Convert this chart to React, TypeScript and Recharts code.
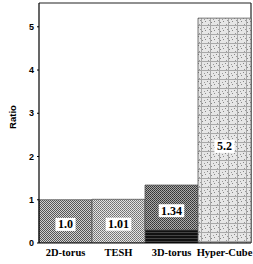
import React from 'react';
import { BarChart, Bar, XAxis, YAxis, Cell, LabelList, CartesianGrid } from 'recharts';

const categories = ['2D-torus', 'TESH', '3D-torus', 'Hyper-Cube'];
const ratios = [1.0, 1.01, 1.34, 5.2];
const labels = ['1.0', '1.01', '1.34', '5.2'];
const darkBase = [0, 0, 0.3, 0];
const yTicks = [0, 1, 2, 3, 4, 5];

const data = categories.map((name, i) => ({
  name,
  base: darkBase[i],
  upper: +(ratios[i] - darkBase[i]).toFixed(3),
}));

const fills = ['url(#p2d)', 'url(#ptesh)', 'url(#p3d)', 'url(#phc)'];

const ValueLabel = (props: any) => {
  const { x, y, width, height, index } = props;
  const text = labels[index];
  const cx = x + width / 2;
  const cy = y + height * 0.57;
  const w = text.length * 5.4 + 4;
  return (
    <g>
      <rect x={cx - w / 2} y={cy - 6.5} width={w} height={13} fill="#fff" />
      <text x={cx} y={cy + 4} textAnchor="middle" fontFamily="Liberation Serif" fontWeight="bold" fontSize={12} fill="#000">
        {text}
      </text>
    </g>
  );
};

const RatioLabel = (props: any) => {
  const vb = props.viewBox || { x: 0, y: 3, width: 39, height: 240 };
  const x = vb.x + 16;
  const y = vb.y + vb.height / 2 - 6;
  return (
    <text x={x} y={y} transform={`rotate(-90, ${x}, ${y})`} textAnchor="middle" fontFamily="Liberation Sans" fontWeight="bold" fontSize={9.5} fill="#000">
      Ratio
    </text>
  );
};

export default function App() {
  return (
    <div style={{ position: 'absolute', left: 0, top: 0, width: 253, height: 264, overflow: 'hidden', background: '#fff' }}>
      <BarChart width={253} height={264} data={data} margin={{ top: 3, right: 2, bottom: 0, left: 0 }} barCategoryGap={0}>
        <defs>
          <pattern id="p2d" width="2" height="2" patternUnits="userSpaceOnUse">
            <rect width="2" height="2" fill="#d0d0d0" />
            <rect x="0" y="0" width="1" height="1" fill="#555" />
            <rect x="1" y="1" width="1" height="1" fill="#555" />
          </pattern>
          <pattern id="ptesh" width="2" height="2" patternUnits="userSpaceOnUse">
            <rect width="2" height="2" fill="#e4e4e4" />
            <rect x="0" y="0" width="1" height="1" fill="#707070" />
            <rect x="1" y="1" width="1" height="1" fill="#808080" />
          </pattern>
          <pattern id="p3d" width="2" height="2" patternUnits="userSpaceOnUse">
            <rect width="2" height="2" fill="#aaa" />
            <rect x="0" y="0" width="1" height="1" fill="#333" />
            <rect x="1" y="1" width="1" height="1" fill="#444" />
          </pattern>
          <pattern id="pbase" width="3" height="3" patternUnits="userSpaceOnUse">
            <rect width="3" height="3" fill="#111" />
            <rect x="0" y="1" width="3" height="1" fill="#444" />
          </pattern>
          <pattern id="phc" width="9" height="9" patternUnits="userSpaceOnUse">
            <rect width="9" height="9" fill="#e6e6e6" />
            <rect x="0" y="0" width="1" height="1" fill="#888" />
            <rect x="2" y="2" width="1" height="1" fill="#999" />
            <rect x="4" y="4" width="1" height="1" fill="#888" />
            <rect x="6" y="1" width="1" height="1" fill="#999" />
            <rect x="1" y="6" width="1" height="1" fill="#999" />
            <rect x="5" y="7" width="1" height="1" fill="#888" />
            <rect x="3" y="0" width="1" height="9" fill="#a8a8a8" />
            <rect x="0" y="7" width="9" height="1" fill="#a8a8a8" />
            <rect x="7" y="3" width="1" height="1" fill="#888" />
          </pattern>
        </defs>
        <CartesianGrid
          stroke="#222"
          strokeWidth={1.2}
          horizontalCoordinatesGenerator={({ offset }: any) => [offset.top]}
          verticalCoordinatesGenerator={({ offset }: any) => [offset.left + offset.width]}
        />
        <XAxis
          dataKey="name"
          interval={0}
          tickLine={false}
          tickSize={0}
          tickMargin={6}
          height={21}
          axisLine={{ stroke: '#000', strokeWidth: 1.2 }}
          tick={{ fontFamily: 'Liberation Serif', fontWeight: 'bold', fontSize: 10.5, fill: '#000' }}
        />
        <YAxis
          domain={[0, 5.55]}
          ticks={yTicks}
          width={39}
          tickSize={2}
          tickMargin={3}
          allowDataOverflow
          axisLine={{ stroke: '#000', strokeWidth: 1.2 }}
          tickLine={{ stroke: '#000' }}
          tick={{ fontFamily: 'Liberation Sans', fontWeight: 'bold', fontSize: 9, fill: '#000' }}
          label={<RatioLabel />}
        />
        <Bar dataKey="base" stackId="a" fill="url(#pbase)" isAnimationActive={false} />
        <Bar dataKey="upper" stackId="a" stroke="#555" strokeWidth={0.8} isAnimationActive={false}>
          {data.map((d, i) => (
            <Cell key={d.name} fill={fills[i]} />
          ))}
          <LabelList dataKey="upper" content={<ValueLabel />} />
        </Bar>
      </BarChart>
    </div>
  );
}
